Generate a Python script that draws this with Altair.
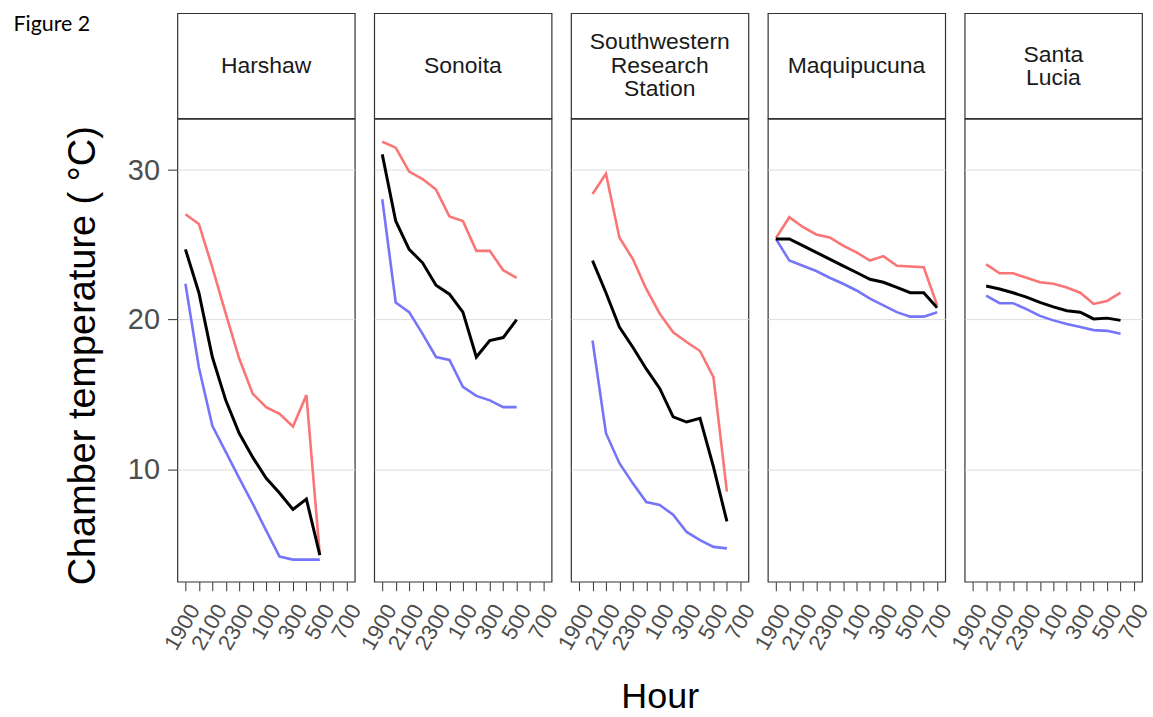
import altair as alt
import pandas as pd

# ---------------- data ----------------
HOURS = ["1900", "2000", "2100", "2200", "2300", "0", "100", "200",
         "300", "400", "500", "600", "700"]
SITES = ["Harshaw", "Sonoita", "Southwestern Research Station",
         "Maquipucuna", "Santa Lucia"]
SITE_LABELS = ["Harshaw", "Sonoita", "Southwestern\nResearch\nStation",
               "Maquipucuna", "Santa\nLucia"]
START_HOUR = ["1900", "1900", "2000", "1900", "2000"]

HARSHAW_MAX = [27.05, 26.4, 23.5, 20.4, 17.4, 15.05, 14.15, 13.7, 12.85, 14.95, 4.25]
HARSHAW_MEAN = [24.7, 21.8, 17.5, 14.6, 12.4, 10.8, 9.4, 8.4, 7.3, 8.0, 4.25]
HARSHAW_MIN = [22.4, 16.8, 12.9, 11.15, 9.4, 7.7, 5.9, 4.15, 3.95, 3.95, 3.95]

SONOITA_MAX = [31.9, 31.5, 29.9, 29.4, 28.7, 26.9, 26.6, 24.6, 24.6, 23.3, 22.8]
SONOITA_MEAN = [31.05, 26.6, 24.7, 23.8, 22.3, 21.7, 20.5, 17.5, 18.6, 18.8, 20.0]
SONOITA_MIN = [28.05, 21.15, 20.5, 19.05, 17.5, 17.3, 15.5, 14.9, 14.6, 14.15, 14.15]

SWRS_MAX = [28.4, 29.75, 25.5, 24.05, 22.05, 20.4, 19.15, 18.5, 17.9, 16.15, 8.5]
SWRS_MEAN = [23.95, 21.8, 19.5, 18.15, 16.7, 15.4, 13.5, 13.15, 13.4, 10.15, 6.5]
SWRS_MIN = [18.6, 12.4, 10.4, 9.05, 7.8, 7.6, 6.95, 5.8, 5.25, 4.8, 4.7]

MAQUI_MAX = [25.45, 26.85, 26.2, 25.7, 25.5, 24.95, 24.5, 23.95, 24.25, 23.6, 23.55, 23.5, 20.95]
MAQUI_MEAN = [25.4, 25.4, 24.95, 24.5, 24.05, 23.6, 23.15, 22.7, 22.5, 22.15, 21.8, 21.8, 20.8]
MAQUI_MIN = [25.4, 23.95, 23.6, 23.25, 22.8, 22.4, 21.95, 21.4, 20.95, 20.5, 20.2, 20.2, 20.5]

SLUCIA_MAX = [23.7, 23.1, 23.1, 22.8, 22.5, 22.4, 22.15, 21.8, 21.05, 21.25, 21.8]
SLUCIA_MEAN = [22.25, 22.05, 21.8, 21.5, 21.15, 20.85, 20.6, 20.5, 20.05, 20.1, 19.95]
SLUCIA_MIN = [21.6, 21.1, 21.1, 20.7, 20.25, 19.95, 19.7, 19.5, 19.3, 19.25, 19.05]

SERIES_MAX = [HARSHAW_MAX, SONOITA_MAX, SWRS_MAX, MAQUI_MAX, SLUCIA_MAX]
SERIES_MEAN = [HARSHAW_MEAN, SONOITA_MEAN, SWRS_MEAN, MAQUI_MEAN, SLUCIA_MEAN]
SERIES_MIN = [HARSHAW_MIN, SONOITA_MIN, SWRS_MIN, MAQUI_MIN, SLUCIA_MIN]

Y_TICKS = [10, 20, 30]
Y_DOMAIN = [2.47, 33.43]
FIG_LABEL = "Figure 2"
Y_TITLE = "Chamber temperature ( °C)"
X_TITLE = "Hour"

rows = []
for site, start, mx, mean, mn in zip(SITES, START_HOUR, SERIES_MAX, SERIES_MEAN, SERIES_MIN):
    s = HOURS.index(start)
    for stat, vals in (("max", mx), ("mean", mean), ("min", mn)):
        for i, v in enumerate(vals):
            rows.append({"site": site, "idx": s + i, "hour": HOURS[s + i],
                         "stat": stat, "temp": v})
df = pd.DataFrame(rows)

# ---------------- style ----------------
FONT = "Liberation Sans"
PW, PH, HH = 178, 464.5, 105.5
LH = 23.5
RED, BLUE = "#FA7575", "#7575FA"
label_expr = ("datum.value % 2 == 0 ? [" + ",".join("'%s'" % h for h in HOURS)
              + "][datum.value] : ''")


def make_plot(i, site):
    sub = df[df.site == site]
    x_kwargs = dict(values=list(range(len(HOURS))), labelExpr=label_expr,
                    labelAngle=-60, labelAlign="right", labelBaseline="top",
                    labelFontSize=22, labelColor="#4D4D4D", labelFont=FONT,
                    labelPadding=10, labelOverlap=False, labelFlush=False,
                    tickSize=9, tickColor="#333333", domain=False, grid=False)
    if i == 2:
        x_kwargs.update(title=X_TITLE, titleFontSize=36, titleFont=FONT,
                        titleColor="black", titleFontWeight="normal",
                        titlePadding=26)
    else:
        x_kwargs.update(title=None)
    if i == 0:
        y_axis = alt.Axis(values=Y_TICKS, grid=True, gridColor="#DCDCDC",
                          gridWidth=1, labelFontSize=29, labelColor="#4D4D4D",
                          labelFont=FONT, labelPadding=8, tickSize=10,
                          tickColor="#333333", domain=False, title=Y_TITLE,
                          titleFontSize=38, titleFont=FONT,
                          titleFontWeight="normal", titleColor="black",
                          titlePadding=25, titleY=PH / 2 + 5)
    else:
        y_axis = alt.Axis(values=Y_TICKS, grid=True, gridColor="#DCDCDC",
                          gridWidth=1, labels=False, ticks=False, domain=False,
                          title=None)
    base = alt.Chart(sub).encode(
        x=alt.X("idx:Q", scale=alt.Scale(domain=[-0.6, 12.6], nice=False, zero=False),
                axis=alt.Axis(**x_kwargs)),
        y=alt.Y("temp:Q", scale=alt.Scale(domain=Y_DOMAIN, nice=False, zero=False),
                axis=y_axis),
    )
    layers = []
    for stat, color, w in (("max", RED, 2.6), ("min", BLUE, 2.6), ("mean", "black", 3)):
        layers.append(base.transform_filter(alt.datum.stat == stat)
                      .mark_line(color=color, strokeWidth=w))
    return alt.layer(*layers).properties(width=PW, height=PH)


def make_header(i):
    label = SITE_LABELS[i]
    n_lines = label.count("\n") + 1
    hdf = pd.DataFrame({"label": [label]})
    header = alt.Chart(hdf).mark_text(
        lineBreak="\n", font=FONT, fontSize=23, color="#1A1A1A", lineHeight=LH,
        align="center", baseline="middle"
    ).encode(text="label:N", x=alt.value(PW / 2),
             y=alt.value(HH / 2 - (n_lines - 1) * LH / 2 + (1 if n_lines == 2 else 0)))
    if i == 0:
        fig = alt.Chart(pd.DataFrame({"t": [FIG_LABEL]})).mark_text(
            font="Lato", fontSize=21.5, align="left", baseline="middle", color="black"
        ).encode(text="t:N", x=alt.value(-164.5), y=alt.value(11.5))
        header = alt.layer(header, fig)
    return header.properties(width=PW, height=HH)


cells = [make_header(i) for i in range(len(SITES))] + \
        [make_plot(i, s) for i, s in enumerate(SITES)]
chart = alt.concat(*cells, columns=len(SITES), spacing={"row": 0, "column": 19.5},
                   bounds="flush").configure_view(
    stroke="#333333", strokeWidth=1.2, fill="white"
).properties(
    padding={"left": 12, "top": 11, "right": 0, "bottom": 0},
    background="white",
)

chart.save("out.html", embed_options={"renderer": "svg", "actions": False})
